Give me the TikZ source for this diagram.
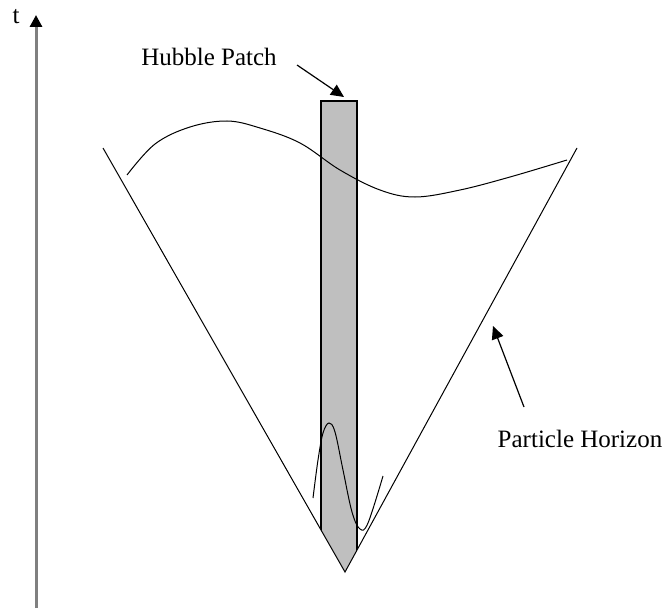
\documentclass[tikz,border=0pt]{standalone}
\usepackage{fontspec}
\setmainfont{Liberation Serif}
\usetikzlibrary{arrows.meta}

\begin{document}
\begin{tikzpicture}[x=1pt, y=-1pt,
    every node/.style={font=\fontsize{25}{29}\selectfont, inner sep=0pt},
    horizon/.style={draw=black, line width=1pt},
    patch/.style={fill=black!25, draw=black, line width=1.1pt},
    pointer/.style={-{Triangle[length=13pt,width=12pt]}, line width=1.2pt},
    taxis/.style={draw=black!50, line width=3pt,
                  -{Triangle[length=12pt,width=12pt,color=black]}}]
  \useasboundingbox (0,0) rectangle (665,610);

  % time axis
  \coordinate (tbottom) at (36,608);
  \coordinate (ttop) at (36,15);
  \draw[taxis] (tbottom) -- (ttop);
  \node (tlabel) at (16,17) {t};

  % light cone
  \coordinate (coneL) at (103,148);
  \coordinate (coneR) at (577,148);
  \coordinate (apex) at (345,572);

  % Hubble patch, cut off by the cone
  \begin{scope}
    \clip (103,0) -- (coneL) -- (apex) -- (coneR) -- (577,0) -- cycle;
    \draw[patch] (321,101) rectangle (357,640);
  \end{scope}

  \draw[horizon] (coneL) -- (apex) -- (coneR);

  % late-time fluctuation
  \draw[horizon] plot[smooth, tension=0.6] coordinates {(127,175) (155,144) (190,127)
    (227,121) (260,128) (300,143) (340,170) (380,190) (415,197) (460,190)
    (510,177) (567,160)};
  % early-time fluctuation
  \draw[horizon] plot[smooth, tension=0.6] coordinates {(313,498) (318,460)
    (323,433) (329,423) (335,432) (343,470) (352,512) (360,529) (368,523)
    (383,476)};

  % labels
  \node (hubble) at (209,57) {Hubble Patch};
  \coordinate (hubbletail) at (297,65);
  \coordinate (patchtop) at (344,97);
  \draw[pointer] (hubbletail) -- (patchtop);

  \node (particle) at (580,439) {Particle Horizon};
  \coordinate (particletail) at (524,407);
  \coordinate (horizonpt) at (493,326);
  \draw[pointer] (particletail) -- (horizonpt);
\end{tikzpicture}
\end{document}
